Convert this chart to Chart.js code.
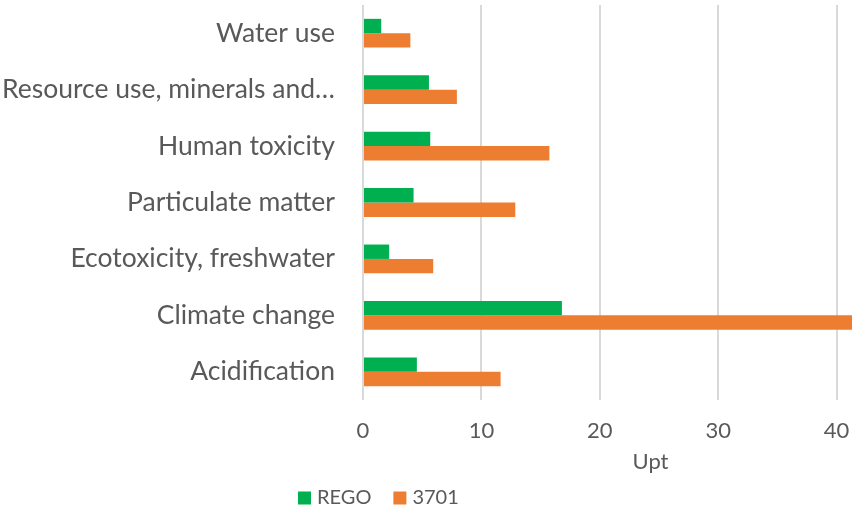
<!DOCTYPE html>
<html>
<head>
<meta charset="utf-8">
<script src="https://cdn.jsdelivr.net/npm/chart.js@4/dist/chart.umd.min.js"></script>
<style>
  html, body { margin: 0; padding: 0; background: #ffffff; overflow: hidden; }
  #wrap { width: 852px; height: 509px; position: relative; }
</style>
</head>
<body>
<div id="wrap"><canvas id="chart"></canvas></div>
<script>
// Impact categories (top to bottom) and scores per product, in Upt
const categories = [
  'Water use',
  'Resource use, minerals and…',
  'Human toxicity',
  'Particulate matter',
  'Ecotoxicity, freshwater',
  'Climate change',
  'Acidification'
];
const seriesNames = ['REGO', '3701'];
const regoValues = [1.54, 5.57, 5.68, 4.27, 2.21, 16.8, 4.55];
const p3701Values = [4.0, 7.93, 15.74, 12.86, 5.93, 42.0, 11.62];
const xTicks = [0, 10, 20, 30, 40];
const axisTitle = 'Upt';

const TEXT = '#595959';
const FONT = 'Lato, "Open Sans", sans-serif';
const colors = ['#00B050', '#ED7D31'];

// Legend and axis title drawn below the plot
const footerPlugin = {
  id: 'footer',
  afterDraw(chart) {
    const ctx = chart.ctx;
    const area = chart.chartArea;
    ctx.save();
    ctx.fillStyle = TEXT;
    ctx.font = '22px ' + FONT;
    ctx.textAlign = 'center';
    ctx.textBaseline = 'middle';
    ctx.fillText(axisTitle, (area.left + area.right) / 2 + 43, 462);

    ctx.font = '20px ' + FONT;
    ctx.textAlign = 'left';
    let x = 298;
    const y = 498;
    chart.data.datasets.forEach((ds) => {
      ctx.fillStyle = ds.backgroundColor;
      ctx.fillRect(x, y - 6.5, 13, 13);
      ctx.fillStyle = TEXT;
      ctx.fillText(ds.label, x + 19, y);
      x += 19 + ctx.measureText(ds.label).width + 22;
    });
    ctx.restore();
  }
};

new Chart(document.getElementById('chart'), {
  type: 'bar',
  data: {
    labels: categories,
    datasets: [
      { label: seriesNames[0], data: regoValues, backgroundColor: colors[0] },
      { label: seriesNames[1], data: p3701Values, backgroundColor: colors[1] }
    ]
  },
  options: {
    indexAxis: 'y',
    responsive: true,
    maintainAspectRatio: false,
    animation: false,
    layout: { padding: { top: 5, right: 0, left: 0, bottom: 0 } },
    datasets: {
      bar: { categoryPercentage: 0.51, barPercentage: 1.0, borderWidth: 0 }
    },
    plugins: {
      legend: { display: false },
      tooltip: { enabled: false }
    },
    scales: {
      x: {
        min: 0,
        max: 41.3,
        afterBuildTicks(scale) {
          scale.ticks = xTicks.map(v => ({ value: v }));
        },
        afterFit(scale) {
          scale.height = 109;
          scale.paddingLeft = 0;
          scale.paddingRight = 0;
        },
        grid: { color: '#d9d9d9', lineWidth: 2, drawTicks: false },
        border: { display: false },
        ticks: {
          color: TEXT,
          font: { family: FONT, size: 22 },
          padding: 18,
          maxRotation: 0
        }
      },
      y: {
        afterFit(scale) {
          scale.width = 363;
          scale.paddingTop = 0;
          scale.paddingBottom = 0;
        },
        grid: { display: false, drawTicks: false },
        border: { display: false },
        ticks: {
          color: TEXT,
          font: { family: FONT, size: 26.5 },
          padding: 28
        }
      }
    }
  },
  plugins: [footerPlugin]
});
</script>
</body>
</html>
